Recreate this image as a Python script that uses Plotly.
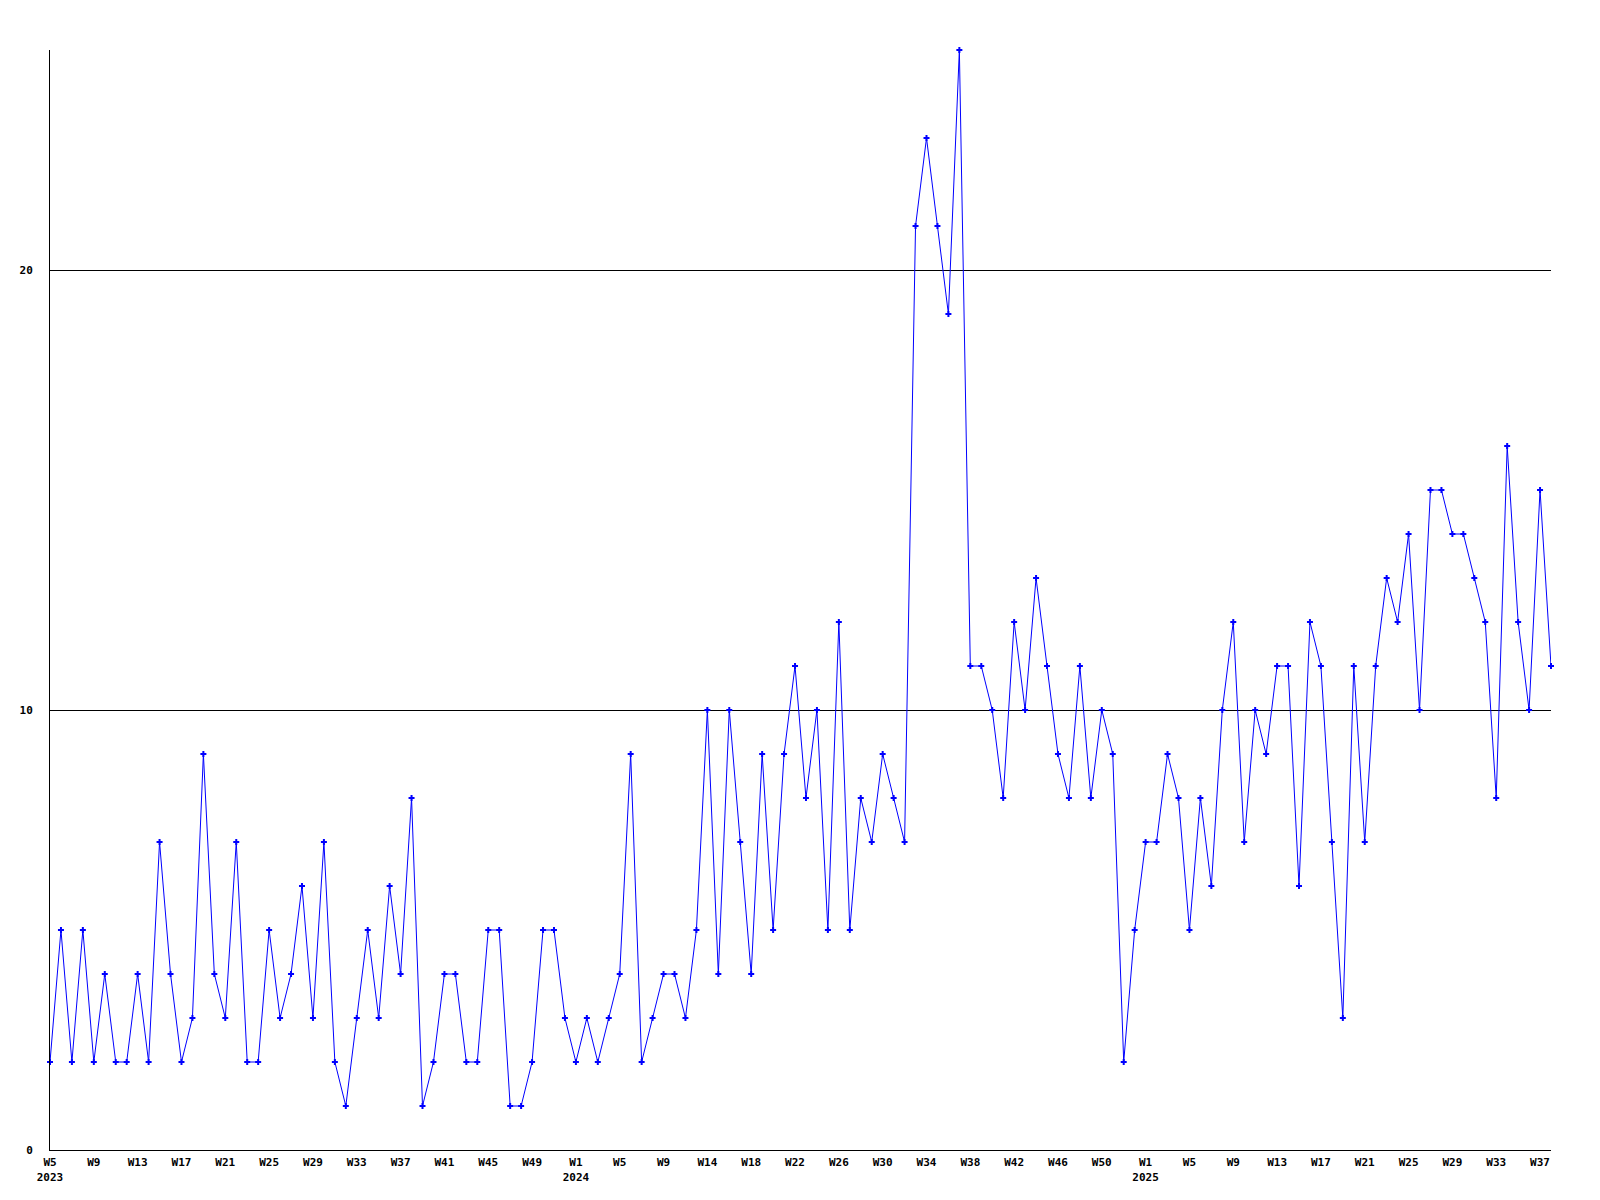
import plotly.graph_objects as go

# Weekly values, 2023 W5 .. 2025 W38 (138 weeks)
values = [
    2, 5, 2, 5, 2, 4, 2, 2, 4, 2, 7, 4, 2, 3, 9, 4, 3, 7, 2, 2,
    5, 3, 4, 6, 3, 7, 2, 1, 3, 5, 3, 6, 4, 8, 1, 2, 4, 4, 2, 2,
    5, 5, 1, 1, 2, 5, 5, 3, 2, 3, 2, 3, 4, 9, 2, 3, 4, 4, 3, 5,
    10, 4, 10, 7, 4, 9, 5, 9, 11, 8, 10, 5, 12, 5, 8, 7, 9, 8, 7, 21,
    23, 21, 19, 25, 11, 11, 10, 8, 12, 10, 13, 11, 9, 8, 11, 8, 10, 9, 2, 5,
    7, 7, 9, 8, 5, 8, 6, 10, 12, 7, 10, 9, 11, 11, 6, 12, 11, 7, 3, 11,
    7, 11, 13, 12, 14, 10, 15, 15, 14, 14, 13, 12, 8, 16, 12, 10, 15, 11,
]
week_index = list(range(len(values)))

tick_positions = list(range(0, 137, 4))
tick_labels = [
    "W5<br>2023", "W9", "W13", "W17", "W21", "W25", "W29", "W33", "W37", "W41", "W45", "W49",
    "W1<br>2024", "W5", "W9", "W14", "W18", "W22", "W26", "W30", "W34", "W38", "W42", "W46", "W50",
    "W1<br>2025", "W5", "W9", "W13", "W17", "W21", "W25", "W29", "W33", "W37",
]
y_ticks = [0, 10, 20]
y_tick_labels = ["0", "10", "20"]

font = dict(family="DejaVu Sans Mono", size=11, color="black", weight="bold")

fig = go.Figure(
    go.Scatter(
        x=week_index,
        y=values,
        mode="lines+markers",
        line=dict(color="#0000FF", width=1),
        marker=dict(symbol="cross", size=5, color="#0000FF", line=dict(width=0)),
        cliponaxis=False,
        hoverinfo="skip",
    )
)

# page body has an 8px margin; compensate so the plot area lands at 50..1551 x 50..1150
fig.update_layout(
    width=1592,
    height=1192,
    margin=dict(l=42, r=49, t=42, b=50),
    paper_bgcolor="white",
    plot_bgcolor="white",
    showlegend=False,
    font=font,
)
fig.update_xaxes(
    range=[0, len(values) - 1],
    tickmode="array",
    tickvals=tick_positions,
    ticktext=tick_labels,
    tickfont=font,
    showgrid=False,
    zeroline=False,
    showline=True,
    linecolor="black",
    linewidth=1,
    ticks="",
    ticklabelstandoff=2,
)
fig.update_yaxes(
    range=[0, 25],
    tickmode="array",
    tickvals=y_ticks,
    ticktext=y_tick_labels,
    tickfont=font,
    showgrid=True,
    gridcolor="black",
    gridwidth=1,
    zeroline=False,
    showline=True,
    linecolor="black",
    linewidth=1,
    ticks="",
    ticklabelstandoff=14,
)

fig.write_html("out.html")
